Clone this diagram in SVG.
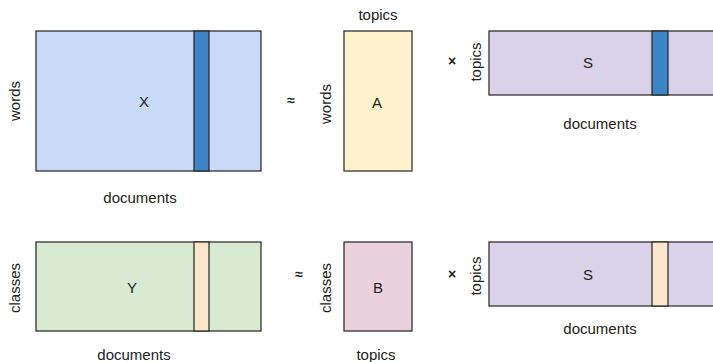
<svg xmlns="http://www.w3.org/2000/svg" width="713" height="362" viewBox="0 0 713 362">
<style>
text{font-family:"Liberation Sans",Arial,sans-serif;font-size:15px;fill:#222;text-anchor:middle;dominant-baseline:central}
.op{font-weight:bold;font-size:14px}
rect{stroke:#222;stroke-width:1.2}
.blue{fill:#c9daf8}.dk{fill:#3d85c6}.yel{fill:#fff2cc}.pur{fill:#d9d2e9}.grn{fill:#d9ead3}.pch{fill:#fce5cd}.pnk{fill:#ead1dc}
</style>
<rect width="713" height="362" fill="#fff" style="stroke:none"/>
<g id="X">
<rect class="blue" x="36" y="31" width="225" height="140"/>
<rect class="dk" x="194" y="31" width="15" height="140"/>
<text x="144" y="101">X</text>
<text x="140" y="197">documents</text>
<text transform="translate(14,101) rotate(-90)">words</text>
</g>
<text class="op" x="291" y="100">≈</text>
<g id="A">
<rect class="yel" x="344" y="31" width="68" height="140"/>
<text x="377" y="102">A</text>
<text x="378" y="14">topics</text>
<text transform="translate(325,104) rotate(-90)">words</text>
</g>
<text class="op" x="452" y="61">×</text>
<g id="S1">
<rect class="pur" x="489" y="31" width="230" height="64"/>
<rect class="dk" x="652" y="31" width="16" height="64"/>
<text x="588" y="62">S</text>
<text x="600" y="123">documents</text>
<text transform="translate(475,62) rotate(-90)">topics</text>
</g>
<g id="Y">
<rect class="grn" x="36" y="242" width="225" height="89"/>
<rect class="pch" x="194" y="242" width="15" height="89"/>
<text x="132" y="287">Y</text>
<text x="134" y="354">documents</text>
<text transform="translate(14,288) rotate(-90)">classes</text>
</g>
<text class="op" x="299" y="274">≈</text>
<g id="B">
<rect class="pnk" x="344" y="242" width="68" height="89"/>
<text x="378" y="287">B</text>
<text x="376" y="354">topics</text>
<text transform="translate(325,288) rotate(-90)">classes</text>
</g>
<text class="op" x="452" y="274">×</text>
<g id="S2">
<rect class="pur" x="489" y="242" width="230" height="64"/>
<rect class="pch" x="652" y="242" width="16" height="64"/>
<text x="588" y="274">S</text>
<text x="600" y="328">documents</text>
<text transform="translate(475,276) rotate(-90)">topics</text>
</g>
</svg>
